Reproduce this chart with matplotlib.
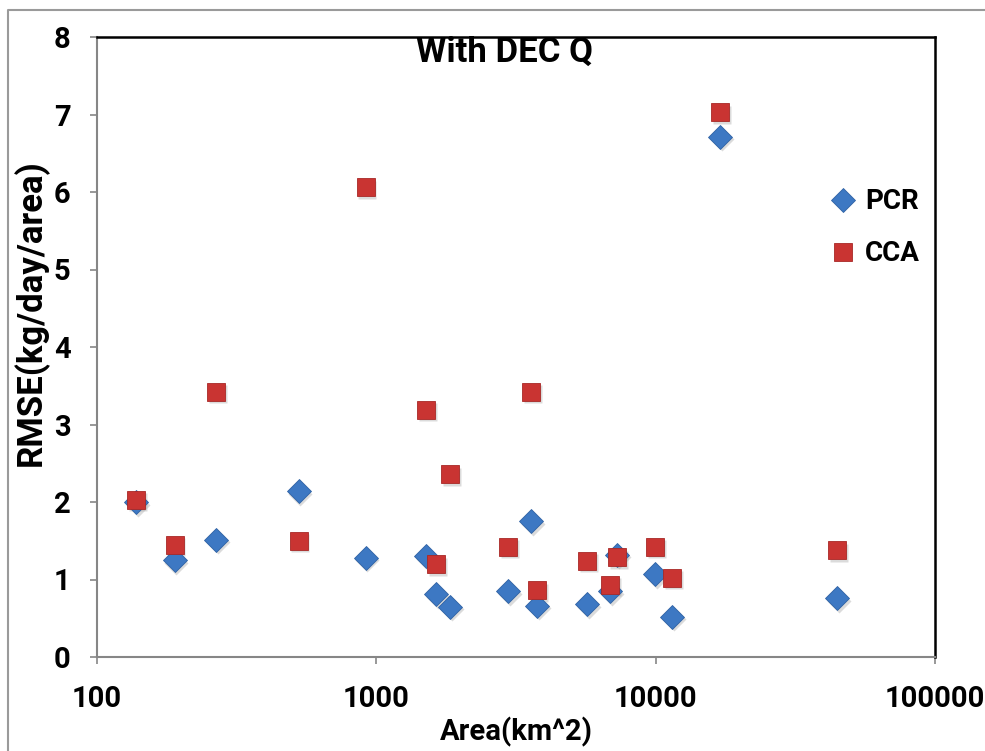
import numpy as np
from matplotlib import pyplot as plt
from matplotlib import transforms
from matplotlib.lines import Line2D

# data
area = [138, 190, 267, 528, 918, 1507, 1636, 1836, 2963, 3583, 3762,
        5678, 6868, 7274, 9955, 11455, 17020, 44600]
pcr = [2.00, 1.25, 1.51, 2.14, 1.28, 1.30, 0.81, 0.65, 0.85, 1.75, 0.66,
       0.68, 0.85, 1.32, 1.07, 0.52, 6.71, 0.76]
cca = [2.03, 1.45, 3.42, 1.50, 6.06, 3.19, 1.20, 2.36, 1.42, 3.42, 0.86,
       1.24, 0.93, 1.29, 1.42, 1.02, 7.03, 1.38]

blue = '#3d78c3'
red = '#c93432'

plt.rcParams['font.family'] = ['Roboto', 'DejaVu Sans']
plt.rcParams['font.weight'] = 'bold'

fig = plt.figure(figsize=(9.85, 7.51), dpi=100)
ax = fig.add_axes([97/985, 94/751, 838/985, 620/751])

# soft drop shadow like the excel markers
shadow = transforms.offset_copy(ax.transData, fig=fig, x=1.5, y=-2.5, units='dots')
ax.plot(area, pcr, 'D', ms=12, color='#999999', alpha=0.35, mec='none', transform=shadow)
ax.plot(area, cca, 's', ms=13.5, color='#999999', alpha=0.35, mec='none', transform=shadow)

ax.plot(area, pcr, 'D', ms=12, color=blue, mec='#2f62a3', mew=0.6, label='PCR')
ax.plot(area, cca, 's', ms=13.5, color=red, mec='#a82826', mew=0.6, label='CCA')

ax.set_xscale('log')
ax.set_xlim(100, 100000)
ax.set_ylim(0, 8)
ax.set_yticks(range(0, 9))
ax.set_xticks([100, 1000, 10000, 100000])
ax.set_xticklabels(['100', '1000', '10000', '100000'])
ax.minorticks_off()
ax.tick_params(axis='both', labelsize=21, length=5, width=1.2, color='#868686', direction='out')
ax.tick_params(axis='x', pad=15)
ax.tick_params(axis='y', pad=14)
for lab in ax.get_xticklabels() + ax.get_yticklabels():
    lab.set_fontweight('bold')

for side in ['left', 'bottom']:
    ax.spines[side].set_color('#868686')
    ax.spines[side].set_linewidth(1.5)
for side in ['top', 'right']:
    ax.spines[side].set_color('black')
    ax.spines[side].set_linewidth(1.8)

ax.set_xlabel('Area(km^2)', fontsize=21, fontweight='bold', labelpad=3)
ax.set_ylabel('RMSE(kg/day/area)', fontsize=25, fontweight='bold')
ax.yaxis.set_label_coords(-0.058, 0.555)
ax.text(0.486, 0.976, 'With DEC Q', transform=ax.transAxes, ha='center', va='center',
        fontsize=25, fontweight='bold')

ax.legend(loc='center left', bbox_to_anchor=(0.86, 0.692), frameon=False,
          prop={'size': 20, 'weight': 'bold'},
          labelspacing=0.9, handlelength=0.8, handletextpad=0.4, borderpad=0)

# outer chart border (grey, top + left)
fig.add_artist(Line2D([7.5/985, 7.5/985, 1.0], [0.0, 1 - 10/751, 1 - 10/751],
                      transform=fig.transFigure, color='#9a9a9a', lw=1.5))

fig.savefig('out.png', dpi=100)
